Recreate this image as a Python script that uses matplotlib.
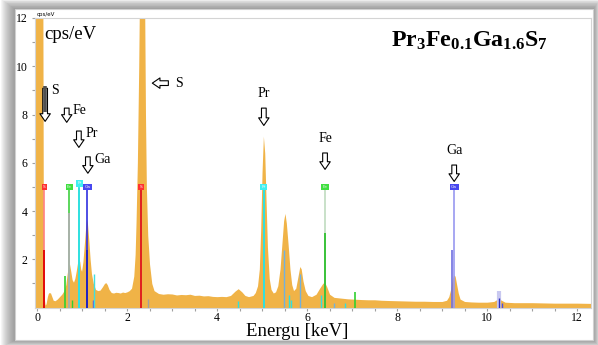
import matplotlib
matplotlib.use('Agg')
import matplotlib.pyplot as plt
from matplotlib.patches import Rectangle

# ---------------- data ----------------
energy_kev = [-0.05, 0.0, 0.05, 0.10, 0.13, 0.14, 0.15, 0.16, 0.18, 0.20, 0.23, 0.25, 0.27, 0.30, 0.33,
              0.36, 0.40, 0.45, 0.50, 0.55, 0.60, 0.64, 0.67, 0.70, 0.72, 0.75, 0.78, 0.81, 0.84,
              0.87, 0.90, 0.93, 0.95, 0.97, 0.99, 1.02, 1.05, 1.08, 1.10, 1.12, 1.15, 1.18, 1.21,
              1.25, 1.30, 1.35, 1.40, 1.45, 1.50, 1.53, 1.56, 1.60, 1.65, 1.70, 1.75, 1.80, 1.85,
              1.90, 1.95, 2.00, 2.05, 2.10, 2.15, 2.18, 2.20, 2.23, 2.26, 2.28, 2.31, 2.35, 2.39,
              2.41, 2.43, 2.46, 2.50, 2.55, 2.60, 2.70, 2.80, 2.90, 3.00, 3.10, 3.20, 3.30, 3.40,
              3.50, 3.60, 3.70, 3.80, 3.90, 4.00, 4.10, 4.20, 4.30, 4.40, 4.47, 4.55, 4.62, 4.70,
              4.80, 4.85, 4.90, 4.94, 4.97, 5.00, 5.03, 5.06, 5.09, 5.12, 5.16, 5.20, 5.25, 5.30,
              5.35, 5.40, 5.44, 5.48, 5.51, 5.54, 5.58, 5.62, 5.66, 5.70, 5.75, 5.80, 5.84, 5.87,
              5.91, 5.96, 6.02, 6.10, 6.20, 6.28, 6.35, 6.39, 6.44, 6.50, 6.60, 6.70, 6.80, 6.90,
              7.00, 7.10, 7.20, 7.35, 7.50, 7.65, 7.80, 8.00, 8.20, 8.40, 8.60, 8.80, 9.00, 9.10,
              9.15, 9.19, 9.23, 9.26, 9.29, 9.32, 9.36, 9.40, 9.50, 9.65, 9.80, 10.00, 10.15,
              10.22, 10.27, 10.32, 10.40, 10.60, 10.80, 11.00, 11.25, 11.50, 11.75, 12.00, 12.30]
counts_cps_ev = [14.0, 14.0, 14.0, 14.0, 12.5, 4.0, 1.2, 0.4, 0.1, 0.15, 0.45, 0.58, 0.62, 0.60, 0.45,
                 0.30, 0.28, 0.35, 0.45, 0.55, 0.70, 0.95, 1.40, 1.75, 1.82, 1.50, 1.15, 1.05, 1.20,
                 1.50, 1.85, 2.00, 1.90, 1.60, 1.50, 1.90, 2.60, 3.30, 3.65, 3.50, 2.80, 2.00, 1.40,
                 1.00, 0.75, 0.70, 0.72, 0.85, 1.00, 1.03, 0.95, 0.75, 0.62, 0.60, 0.63, 0.62, 0.60,
                 0.64, 0.62, 0.65, 0.70, 0.80, 1.30, 2.20, 3.50, 6.00, 10.0, 13.5, 14.0, 14.0, 13.0,
                 8.00, 5.00, 3.00, 1.80, 1.00, 0.70, 0.58, 0.55, 0.57, 0.56, 0.52, 0.54, 0.53, 0.55,
                 0.50, 0.51, 0.48, 0.49, 0.46, 0.45, 0.46, 0.45, 0.50, 0.68, 0.78, 0.65, 0.50, 0.45,
                 0.50, 0.62, 0.90, 1.60, 3.20, 5.60, 7.10, 6.40, 4.40, 2.50, 1.20, 0.75, 0.60, 0.65,
                 0.90, 1.60, 2.60, 3.60, 3.90, 3.50, 2.60, 1.60, 0.95, 0.70, 0.80, 1.30, 1.70, 1.60,
                 1.10, 0.70, 0.50, 0.45, 0.55, 0.80, 1.00, 1.05, 0.85, 0.55, 0.42, 0.40, 0.38, 0.36,
                 0.35, 0.34, 0.33, 0.32, 0.32, 0.30, 0.29, 0.28, 0.27, 0.26, 0.26, 0.25, 0.25, 0.30,
                 0.45, 0.75, 1.20, 1.35, 1.30, 1.00, 0.60, 0.35, 0.25, 0.23, 0.22, 0.22, 0.25,
                 0.33, 0.35, 0.30, 0.22, 0.20, 0.20, 0.20, 0.19, 0.18, 0.18, 0.18, 0.17]

# element marker lines (label position energies)
marker_el = ['S', 'Fe', 'Pr', 'Ga', 'S', 'Pr', 'Fe', 'Ga']
marker_e = [0.16, 0.72, 0.94, 1.12, 2.31, 5.04, 6.40, 9.27]
marker_dark_h = [2.4, 3.9, 5.0, 2.4, 5.0, 5.0, 3.1, 0.0]
marker_light = ['#ff8080', '#40d040', '#30e0e0', '#3030e0', '#e02020', '#30e0e0', '#c0dcc0', '#9898f0']
marker_dark = ['#e00000', '#b0b0b0', '#30e0e0', '#2020c0', '#e02020', '#30e0e0', '#30c030', '#9898f0']
marker_box = ['#ff3030', '#40e040', '#40f0f0', '#4848f0', '#ff3030', '#40f0f0', '#40e040', '#4848f0']

# minor line positions
minor_e = [0.63, 0.77, 1.24, 1.26, 2.46, 4.47, 5.49, 5.59, 5.65, 5.85, 6.32, 6.60, 6.84, 7.06, 9.22, 10.26, 10.26, 10.34]
minor_h = [1.3, 0.3, 0.3, 1.4, 0.35, 0.25, 2.4, 0.5, 0.3, 1.4, 0.5, 0.2, 0.2, 0.65, 2.4, 0.7, 0.4, 0.2]
minor_c = ['#30d030', '#30d030', '#6060e0', '#40e0e0', '#a0a0a0', '#30e0e0', '#70b0e0', '#30e0e0',
           '#30e0e0', '#70b0e0', '#30e0e0', '#70b0e0', '#30e0e0', '#30d030', '#7070e0', '#c8c8f0',
           '#3030c0', '#5050e0']
minor_w = [1.2, 1.0, 1.0, 1.0, 1.0, 1.0, 1.0, 1.0, 1.0, 1.0, 1.0, 1.0, 1.0, 1.2, 1.2, 3.0, 1.0, 1.0]

# arrows
arrow_lbl = ['S', 'Fe', 'Pr', 'Ga', 'Pr', 'Fe', 'Ga']
arrow_x = [0.18, 0.66, 0.93, 1.13, 5.04, 6.40, 9.27]
arrow_y0 = [9.2, 8.38, 7.43, 6.36, 8.38, 6.52, 6.02]
arrow_y1 = [7.6, 7.56, 6.52, 5.45, 7.43, 5.61, 5.11]

xticks = [0, 2, 4, 6, 8, 10, 12]
yticks = [2, 4, 6, 8, 10, 12]

# ---------------- figure ----------------
W, H = 598, 345
plt.rcParams['font.family'] = ['Liberation Serif', 'DejaVu Serif']
plt.rcParams['mathtext.fontset'] = 'custom'
plt.rcParams['mathtext.rm'] = 'Liberation Serif'
plt.rcParams['mathtext.bf'] = 'Liberation Serif:bold'
fig = plt.figure(figsize=(W / 100, H / 100), dpi=100)
fig.patch.set_facecolor('white')


def frect(x0, y0, x1, y1):
    return (x0 / W, 1 - y1 / H), (x1 - x0) / W, (y1 - y0) / H


for i in range(14, 0, -1):
    xy, w, h = frect(15 - i, 9 - i * 0.7, 593 + i * 0.5, 340 + i * 0.5)
    fig.patches.append(Rectangle(xy, w, h, transform=fig.transFigure, facecolor='#606060',
                                 alpha=0.06, edgecolor='none', zorder=-5))
xy, w, h = frect(15, 9, 593, 340)
fig.patches.append(Rectangle(xy, w, h, transform=fig.transFigure, facecolor='white',
                             edgecolor='#d0d0d0', lw=0.8, zorder=-4))

ax = fig.add_axes([35 / W, 1 - 307.5 / H, (591 - 35) / W, (307.5 - 18) / H])
ax.set_facecolor('white')
ax.set_xlim(-0.045, 12.31)
ax.set_ylim(0, 12.0)

ax.fill_between(energy_kev, counts_cps_ev, 0, color='#f0b347', lw=0, zorder=2)

# marker lines
for e, hd, cl, cd, cb, el in zip(marker_e, marker_dark_h, marker_light, marker_dark, marker_box, marker_el):
    ax.vlines(e, 0, 4.95, color=cl, lw=1.2, zorder=3)
    if hd > 0:
        ax.vlines(e, 0, hd, color=cd, lw=1.3, zorder=3.5)
    yb = 5.15 if (el == 'Pr' and e < 2) else 5.0
    ax.text(e, yb, el, fontsize=3.2, color='#f0f0f0', ha='center', va='center', zorder=5,
            family='DejaVu Sans',
            bbox=dict(boxstyle='square,pad=0.3', fc=cb, ec='none'))

for e, hh, c, w in zip(minor_e, minor_h, minor_c, minor_w):
    ax.vlines(e, 0, hh, color=c, lw=w, zorder=3)

astyle = 'simple,head_width=0.75,head_length=0.55,tail_width=0.34'
# arrows
for lbl, x, y0, y1 in zip(arrow_lbl, arrow_x, arrow_y0, arrow_y1):
    ax.annotate('', xy=(x, y1), xytext=(x, y0),
                arrowprops=dict(arrowstyle=astyle, fc='white', ec='black', lw=0.8), zorder=6)
    if x < 2:
        ax.text(x + 0.14, y0 + 0.05, lbl, fontsize=10, ha='left', va='top', zorder=6)
    else:
        ax.text(x, y0 + 0.22, lbl, fontsize=10, ha='center', va='bottom', zorder=6)
# dark shaft on first S arrow
ax.vlines(arrow_x[0], arrow_y1[0] + 0.5, arrow_y0[0], color='#505050', lw=2.6, zorder=7)

# left-pointing S arrow near S K-alpha peak
ax.annotate('', xy=(2.50, 9.3), xytext=(2.98, 9.3),
            arrowprops=dict(arrowstyle=astyle, fc='white', ec='black', lw=0.8), zorder=6)
ax.text(3.06, 9.3, 'S', fontsize=10, ha='left', va='center', zorder=6)

# texts
ax.text(0.17, 11.3, 'cps/eV', fontsize=13.5, ha='left', va='center', zorder=6)
fig.text(391 / W, 1 - 47 / H, r'$\mathbf{Pr_{3}Fe_{0.1}Ga_{1.6}S_{7}}$', fontsize=17.2,
         ha='left', va='baseline')
fig.text(37 / W, 1 - 16 / H, 'cps/eV', fontsize=4, ha='left', va='baseline', family='DejaVu Sans')

# axes styling
for s in ax.spines.values():
    s.set_color('#d4d4d4')
    s.set_linewidth(0.8)
ax.set_xticks(xticks)
ax.set_xticks([x / 2 for x in range(0, 25)], minor=True)
ax.set_yticks(yticks)
ax.set_yticks([1, 3, 5, 7, 9, 11], minor=True)
ax.tick_params(axis='both', which='both', color='#a0a0a0', labelsize=8.5, length=2.2, width=0.8,
               labelcolor='black')
ax.tick_params(axis='x', which='major', pad=1.2)
ax.tick_params(axis='y', which='major', pad=3)
ax.set_xlabel('Energu [keV]', fontsize=13.5)
ax.xaxis.label.set_va('baseline')
ax.xaxis.set_label_coords((297.5 - 35) / 556, (307.5 - 336.5) / 289.5)

fig.savefig('out.png', dpi=100, facecolor='white')
